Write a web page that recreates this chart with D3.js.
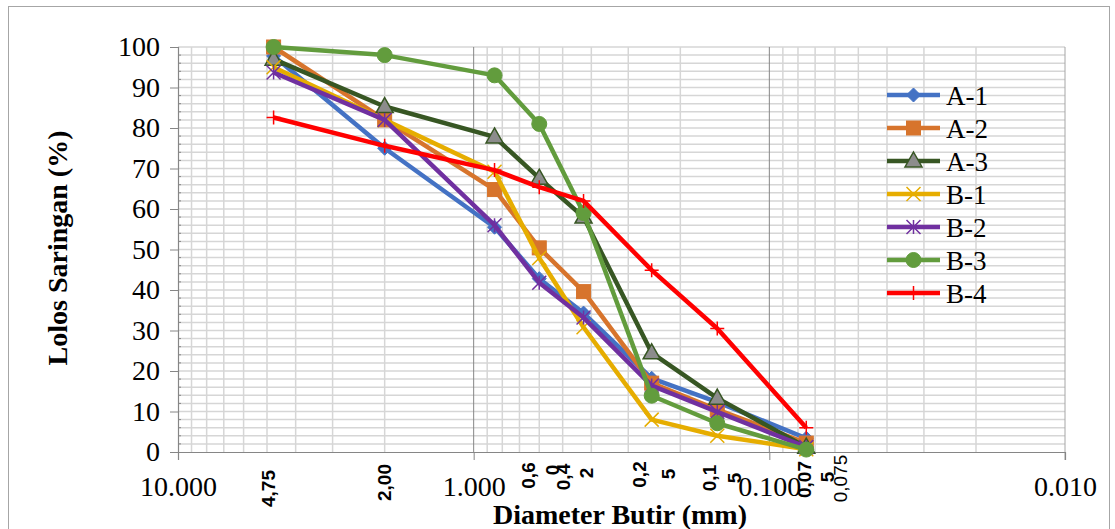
<!DOCTYPE html>
<html>
<head>
<meta charset="utf-8">
<script src="https://cdn.jsdelivr.net/npm/d3@7"></script>
<style>
  html, body { margin: 0; padding: 0; background: #ffffff; }
  svg { display: block; }
</style>
</head>
<body>
<svg id="chart" width="1115" height="529"></svg>
<script>
// ---------------- data ----------------
const sieveSizes = [4.75, 2.00, 0.85, 0.6, 0.425, 0.25, 0.15, 0.075];
const seriesNames = ["A-1", "A-2", "A-3", "B-1", "B-2", "B-3", "B-4"];
const valuesA1 = [97.8, 75.0, 55.5, 42.8, 34.3, 18.2, 12.3, 3.4];
const valuesA2 = [100.0, 82.0, 64.8, 50.4, 39.6, 17.0, 10.5, 2.2];
const valuesA3 = [97.0, 85.3, 77.8, 67.6, 58.0, 24.5, 13.3, 1.2];
const valuesB1 = [95.0, 82.0, 69.2, 47.9, 30.8, 8.0, 4.0, 0.7];
const valuesB2 = [93.7, 82.0, 56.0, 41.8, 33.2, 16.4, 9.9, 1.2];
const valuesB3 = [100.0, 98.0, 93.0, 81.0, 59.0, 13.9, 7.1, 0.6];
const valuesB4 = [82.6, 75.6, 69.6, 65.4, 62.0, 44.9, 30.5, 6.0];
const xTickValues = [10, 1, 0.1, 0.01];
const xTickLabels = ["10.000", "1.000", "0.100", "0.010"];
const yTickValues = [0, 10, 20, 30, 40, 50, 60, 70, 80, 90, 100];
const sieveLabelTexts = ["4,75", "2,00", "0,6", "0", "0,4", "2", "0,2", "5", "0,1", "5", "0,07", "5", "0,075"];
const xTitle = "Diameter Butir (mm)";
const yTitle = "Lolos Saringan (%)";

// ---------------- styling ----------------
const seriesValues = [valuesA1, valuesA2, valuesA3, valuesB1, valuesB2, valuesB3, valuesB4];
const lineColors = ["#4472C4", "#D7742C", "#375623", "#E6AD00", "#7030A0", "#629C3D", "#FF0000"];
const markerTypes = ["diamond", "square", "triangle", "x", "star", "circle", "plus"];

const svg = d3.select("#chart");
const pLeft = 178, pRight = 1065, pTop = 47, pBottom = 452;

const x = d3.scaleLog().domain([10, 0.01]).range([pLeft, pRight]);
const y = d3.scaleLinear().domain([0, 100]).range([pBottom, pTop]);

// outer border
svg.append("rect").attr("x", 8.5).attr("y", 6.5).attr("width", 1101).attr("height", 540)
  .attr("fill", "none").attr("stroke", "#a6a6a6").attr("stroke-width", 1);

// ---------------- grid ----------------
const grid = svg.append("g");
d3.range(2, 101, 2).forEach(v => {
  grid.append("line").attr("x1", pLeft).attr("x2", pRight)
    .attr("y1", y(v)).attr("y2", y(v))
    .attr("stroke", "#d6d6d6").attr("stroke-width", 1.5);
});
const minorX = [];
[1, 0.1, 0.01].forEach(dec => { for (let k = 2; k <= 9; k++) minorX.push(k * dec); });
minorX.forEach(v => {
  grid.append("line").attr("x1", x(v)).attr("x2", x(v))
    .attr("y1", pTop).attr("y2", pBottom)
    .attr("stroke", "#d6d6d6").attr("stroke-width", 1.5);
});
[1, 0.1].forEach(v => {
  grid.append("line").attr("x1", x(v)).attr("x2", x(v))
    .attr("y1", pTop).attr("y2", pBottom)
    .attr("stroke", "#868686").attr("stroke-width", 1);
});
grid.append("line").attr("x1", x(0.01)).attr("x2", x(0.01))
  .attr("y1", pTop).attr("y2", pBottom + 8)
  .attr("stroke", "#a6a6a6").attr("stroke-width", 1);

// ---------------- axes ----------------
const yAxis = d3.axisLeft(y).tickValues(yTickValues).tickSize(8).tickPadding(10).tickFormat(d3.format("d"));
const gy = svg.append("g").attr("transform", `translate(${pLeft},0)`).call(yAxis);
gy.select(".domain").attr("stroke", "#868686").attr("stroke-width", 1.2);
gy.selectAll(".tick line").attr("stroke", "#868686");
gy.selectAll("text").attr("font-family", "'Liberation Serif', 'Times New Roman', serif")
  .attr("font-size", 28).attr("fill", "#000");
d3.range(2, 100, 2).filter(v => v % 10 !== 0).forEach(v => {
  svg.append("line").attr("x1", pLeft).attr("x2", pLeft + 3).attr("y1", y(v)).attr("y2", y(v))
    .attr("stroke", "#868686").attr("stroke-width", 1);
});

const xAxis = d3.axisBottom(x).tickValues(xTickValues).tickSize(8).tickPadding(16)
  .tickFormat((d, i) => xTickLabels[i]);
const gx = svg.append("g").attr("transform", `translate(0,${pBottom})`).call(xAxis);
gx.select(".domain").attr("stroke", "#868686").attr("stroke-width", 1.2);
gx.selectAll(".tick line").attr("stroke", "#868686");
gx.selectAll("text").attr("font-family", "'Liberation Serif', 'Times New Roman', serif")
  .attr("font-size", 28).attr("fill", "#000");

// rotated sieve labels
const sieveLabelPos = [
  [275, 488.5, "bold"], [391, 482.5, "bold"], [535, 475.5, "bold"], [559, 470, "bold"],
  [570, 477, "bold"], [593, 473, "bold"], [646, 474.5, "bold"], [675, 474, "bold"],
  [716, 478, "bold"], [741, 478, "bold"], [811, 479.5, "bold"], [834, 477, "bold"],
  [847, 478.5, "normal"]
];
sieveLabelTexts.forEach((t, i) => {
  const p = sieveLabelPos[i];
  svg.append("text").text(t)
    .attr("transform", `translate(${p[0]},${p[1]}) rotate(-90)`)
    .attr("text-anchor", "middle")
    .attr("font-family", "'Liberation Sans', Arial, sans-serif")
    .attr("font-weight", p[2]).attr("font-size", 19).attr("fill", "#000");
});

// titles
svg.append("text").text(xTitle).attr("x", 620).attr("y", 524).attr("text-anchor", "middle")
  .attr("font-family", "'Liberation Serif', 'Times New Roman', serif")
  .attr("font-weight", "bold").attr("font-size", 28).attr("fill", "#000");
svg.append("text").text(yTitle).attr("transform", "translate(67,248) rotate(-90)")
  .attr("text-anchor", "middle")
  .attr("font-family", "'Liberation Serif', 'Times New Roman', serif")
  .attr("font-weight", "bold").attr("font-size", 28).attr("fill", "#000");

// ---------------- markers ----------------
function drawMarker(g, type, cx, cy, color) {
  const s = 7;
  if (type === "diamond") {
    g.append("path").attr("d", `M${cx},${cy - 7}L${cx + 7},${cy}L${cx},${cy + 7}L${cx - 7},${cy}Z`)
      .attr("fill", color).attr("stroke", color);
  } else if (type === "square") {
    g.append("rect").attr("x", cx - 7).attr("y", cy - 7).attr("width", 14).attr("height", 14)
      .attr("fill", color).attr("stroke", color);
  } else if (type === "triangle") {
    g.append("path").attr("d", `M${cx},${cy - 9}L${cx + 8.5},${cy + 6}L${cx - 8.5},${cy + 6}Z`)
      .attr("fill", "#8C8C8C").attr("stroke", "#375623").attr("stroke-width", 1.5);
  } else if (type === "x") {
    g.append("path").attr("d", `M${cx - s},${cy - s}L${cx + s},${cy + s}M${cx - s},${cy + s}L${cx + s},${cy - s}`)
      .attr("stroke", color).attr("stroke-width", 1.5).attr("fill", "none");
  } else if (type === "star") {
    g.append("path").attr("d", `M${cx - s},${cy - s}L${cx + s},${cy + s}M${cx - s},${cy + s}L${cx + s},${cy - s}M${cx},${cy - s}L${cx},${cy + s}`)
      .attr("stroke", color).attr("stroke-width", 1.5).attr("fill", "none");
  } else if (type === "circle") {
    g.append("circle").attr("cx", cx).attr("cy", cy).attr("r", 7.5).attr("fill", color).attr("stroke", color);
  } else if (type === "plus") {
    g.append("path").attr("d", `M${cx - s},${cy}L${cx + s},${cy}M${cx},${cy - s}L${cx},${cy + s}`)
      .attr("stroke", color).attr("stroke-width", 1.5).attr("fill", "none");
  }
}

// ---------------- series ----------------
const line = d3.line().x(d => x(d[0])).y(d => y(d[1]));
seriesNames.forEach((name, i) => {
  const g = svg.append("g");
  const pts = sieveSizes.map((s, j) => [s, seriesValues[i][j]]);
  g.append("path").attr("d", line(pts)).attr("fill", "none")
    .attr("stroke", lineColors[i]).attr("stroke-width", 4.5).attr("stroke-linejoin", "round");
  pts.forEach(p => drawMarker(g, markerTypes[i], x(p[0]), y(p[1]), lineColors[i]));
});

// ---------------- legend ----------------
const legend = svg.append("g");
seriesNames.forEach((name, i) => {
  const ly = 95 + i * 33;
  legend.append("line").attr("x1", 887).attr("x2", 940).attr("y1", ly).attr("y2", ly)
    .attr("stroke", lineColors[i]).attr("stroke-width", 4.5);
  drawMarker(legend, markerTypes[i], 913.5, ly, lineColors[i]);
  legend.append("text").text(name).attr("x", 946).attr("y", ly + 9.5)
    .attr("font-family", "'Liberation Serif', 'Times New Roman', serif")
    .attr("font-size", 27).attr("fill", "#000");
});
</script>
</body>
</html>
